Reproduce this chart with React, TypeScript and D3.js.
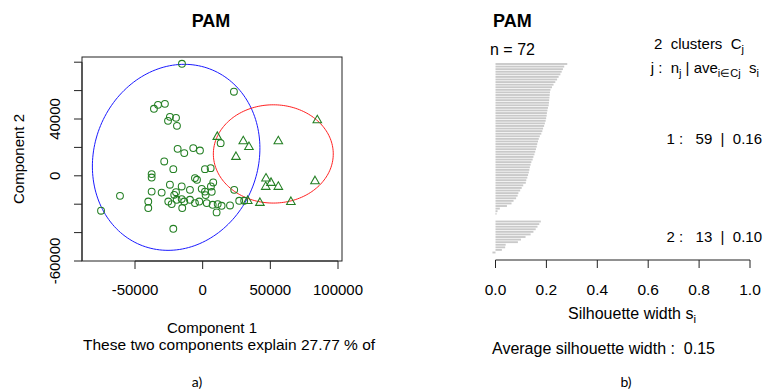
import React from "react";
import * as d3 from "d3";

// ---- Cluster plot (PAM, first two principal components) ----
// Cluster 1 observations: [Component 1, Component 2]
const cluster1Points: [number, number][] = [
  [-15300, 78900], [-36000, 47200], [-33000, 50000], [-27900, 50700],
  [-24200, 41500], [-25600, 38700], [-19700, 40800], [-19000, 35200],
  [23100, 59200], [-18500, 19000], [-13600, 16000], [-6950, 19500],
  [-2000, 17800], [-28400, 10100], [-21700, 4700], [1700, 4700],
  [5900, 5400], [-37700, 1200], [-37700, -1200], [-5700, -1600],
  [-4200, -2800], [7800, -4700], [-24200, -6300], [-15500, -7500],
  [6100, -7500], [-700, -9200], [1700, -11100], [-37700, -11100],
  [-30300, -11800], [-19700, -11500], [-21000, -13400], [-9400, -9900],
  [6700, -11300], [2200, -13600], [23300, -9900], [-40200, -18100],
  [-40200, -22700], [-25400, -18100], [-22900, -19900], [-19200, -16900],
  [-15500, -16400], [-13600, -18100], [-9400, -16900], [-5700, -19200],
  [-2500, -18100], [3000, -19200], [7400, -20400], [11100, -19900],
  [14000, -21100], [-15100, -22700], [20200, -20900], [10300, -25800],
  [27000, -17600], [30700, -17600], [-61100, -14100], [-75100, -24600],
  [-21700, -37300], [13300, 23000],
];

// Cluster 2 observations
const cluster2Points: [number, number][] = [
  [10800, 27700], [30000, 24600], [34200, 20600], [55900, 24600],
  [24600, 13600], [84700, 39400], [46800, -1600], [50500, -4700],
  [46600, -7500], [55900, -7500], [83000, -3500], [42300, -18800],
  [65200, -18100], [33300, -17400],
];

// Spanning ellipses: centre and the two axis vectors, in data units
const ellipse1 = { cx: -19600, cy: 13000, ax: [61600, 0], bx: [6000, 65500] };
const ellipse2 = { cx: 52200, cy: 15400, ax: [44300, 0], bx: [0, 34600] };

const xTicksLeft = [-50000, 0, 50000, 100000];
const yTicksLeft = [-60000, -40000, -20000, 0, 20000, 40000, 60000, 80000];
const yTickLabelsLeft = [-60000, 0, 40000];

// ---- Silhouette plot ----
const silhouetteCluster1 = [
  0.282, 0.27, 0.265, 0.26, 0.255, 0.248, 0.242, 0.235, 0.228, 0.222,
  0.216, 0.214, 0.213, 0.212, 0.211, 0.21, 0.209, 0.206, 0.204, 0.202,
  0.201, 0.199, 0.197, 0.194, 0.191, 0.187, 0.184, 0.18, 0.174, 0.17,
  0.167, 0.164, 0.162, 0.159, 0.156, 0.153, 0.149, 0.146, 0.141, 0.138,
  0.135, 0.133, 0.131, 0.128, 0.125, 0.121, 0.119, 0.109, 0.103, 0.097,
  0.09, 0.087, 0.081, 0.071, 0.063, 0.045, 0.017, 0.008, 0.004,
];
const silhouetteCluster2 = [
  0.178, 0.172, 0.165, 0.158, 0.149, 0.138, 0.118, 0.1, 0.088, 0.04,
  0.038, 0.025, -0.012,
];
const silTicks = [0, 0.2, 0.4, 0.6, 0.8, 1.0];

const FONT = "'Liberation Sans', Arial, Helvetica, sans-serif";
const NOTE_FONT = "Lato, 'Open Sans', sans-serif";
const GREEN = "#237f23";

export default function App() {
  // left panel scales
  const x = d3.scaleLinear().domain([-50000, 100000]).range([135, 338]);
  const y = d3.scaleLinear().domain([-60000, 40000]).range([261, 119]);

  const ellipsePath = (e: typeof ellipse1) => {
    const pts: [number, number][] = d3.range(0, 361, 2).map((deg) => {
      const t = (deg * Math.PI) / 180;
      const dx = e.ax[0] * Math.cos(t) + e.bx[0] * Math.sin(t);
      const dy = e.ax[1] * Math.cos(t) + e.bx[1] * Math.sin(t);
      return [x(e.cx + dx), y(e.cy + dy)];
    });
    return d3.line()(pts) + "Z";
  };

  // right panel scales
  const sx = d3.scaleLinear().domain([0, 1]).range([495.5, 750]);
  const clusters = [silhouetteCluster1, silhouetteCluster2];
  const total = silhouetteCluster1.length + silhouetteCluster2.length;
  const sy = d3.scaleLinear().domain([0, total + 2 * (clusters.length - 1) - 1]).range([64, 252.5]);
  const step = sy(1) - sy(0);

  const bars: { pos: number; v: number }[] = [];
  const clusterInfo: { j: number; n: number; avg: number; mid: number }[] = [];
  let pos = 0;
  clusters.forEach((c, k) => {
    const start = pos;
    c.forEach((v) => {
      bars.push({ pos, v });
      pos += 1;
    });
    clusterInfo.push({ j: k + 1, n: c.length, avg: d3.mean(c) as number, mid: (start + pos - 1) / 2 });
    pos += 2;
  });
  const avgSil = d3.mean(clusters.flat()) as number;

  const triangle = (cx: number, cy: number) =>
    `M${cx},${cy - 4.6}L${cx + 4.3},${cy + 2.9}L${cx - 4.3},${cy + 2.9}Z`;

  return (
    <svg width={773} height={392} style={{ display: "block", position: "absolute", left: 0, top: 0 }} fontFamily={FONT}>
      <rect width={773} height={392} fill="#fff" />

      {/* ---------- left: cluster plot ---------- */}
      <text x={211} y={27} textAnchor="middle" fontWeight="bold" fontSize={18}>PAM</text>
      <rect x={82} y={57} width={260} height={204} fill="none" stroke="#222" strokeWidth={1} />
      <path d={ellipsePath(ellipse1)} fill="none" stroke="#1a1aff" strokeWidth={1} />
      <path d={ellipsePath(ellipse2)} fill="none" stroke="#ff2020" strokeWidth={1} />
      {cluster1Points.map(([a, b], i) => (
        <circle key={"c" + i} cx={x(a)} cy={y(b)} r={3.4} fill="none" stroke={GREEN} strokeWidth={1.05} />
      ))}
      {cluster2Points.map(([a, b], i) => (
        <path key={"t" + i} d={triangle(x(a), y(b))} fill="none" stroke={GREEN} strokeWidth={1.05} />
      ))}
      {/* x axis */}
      <line x1={x(xTicksLeft[0])} x2={x(xTicksLeft[xTicksLeft.length - 1])} y1={261} y2={261} stroke="#222" />
      {xTicksLeft.map((t) => (
        <g key={"xt" + t}>
          <line x1={x(t)} x2={x(t)} y1={261} y2={269} stroke="#222" />
          <text x={x(t)} y={295} textAnchor="middle" fontSize={15}>{t}</text>
        </g>
      ))}
      {/* y axis */}
      <line x1={82} x2={82} y1={y(yTicksLeft[0])} y2={y(yTicksLeft[yTicksLeft.length - 1])} stroke="#222" />
      {yTicksLeft.map((t) => (
        <line key={"yt" + t} x1={74} x2={82} y1={y(t)} y2={y(t)} stroke="#222" />
      ))}
      {yTickLabelsLeft.map((t) => (
        <text key={"yl" + t} transform={`translate(60,${y(t)}) rotate(-90)`} textAnchor="middle" fontSize={15}>{t}</text>
      ))}
      <text transform="translate(24,159) rotate(-90)" textAnchor="middle" fontSize={15}>Component 2</text>
      <text x={212} y={333} textAnchor="middle" fontSize={15}>Component 1</text>
      <text x={83} y={350} fontSize={15.5}>These two components explain 27.77 % of</text>
      <text x={197} y={387} textAnchor="middle" fontSize={14} fontFamily={NOTE_FONT}>a)</text>

      {/* ---------- right: silhouette plot ---------- */}
      <text x={493} y={27} fontWeight="bold" fontSize={18}>PAM</text>
      <text x={490} y={55} fontSize={16}>n = {total}</text>
      <text x={744} y={49} textAnchor="end" fontSize={15} style={{ whiteSpace: "pre" }}>
        {`${clusters.length}  clusters  C`}<tspan fontSize={11} dy={4}>j</tspan>
      </text>
      <text x={759} y={73} textAnchor="end" fontSize={15} style={{ whiteSpace: "pre" }}>
        j :  n<tspan fontSize={11} dy={4}>j</tspan>
        <tspan dy={-4}> | ave</tspan>
        <tspan fontSize={11} dy={4}>i∈Cj</tspan>
        <tspan dy={-4}>  s</tspan>
        <tspan fontSize={11} dy={4}>i</tspan>
      </text>
      {bars.map((b, i) => (
        <rect
          key={"b" + i}
          x={Math.min(sx(0), sx(b.v))}
          y={sy(b.pos) - step * 0.36}
          width={Math.abs(sx(b.v) - sx(0))}
          height={step * 0.72}
          fill="#c9c9c9"
        />
      ))}
      {clusterInfo.map((c) => (
        <text key={"cl" + c.j} x={762} y={sy(c.mid) + 5} textAnchor="end" fontSize={15} style={{ whiteSpace: "pre" }}>
          {`${c.j} :   ${c.n}  |  ${c.avg.toFixed(2)}`}
        </text>
      ))}
      <line x1={sx(0)} x2={sx(1)} y1={260} y2={260} stroke="#222" />
      {silTicks.map((t) => (
        <g key={"st" + t}>
          <line x1={sx(t)} x2={sx(t)} y1={260} y2={268} stroke="#222" />
          <text x={sx(t)} y={295} textAnchor="middle" fontSize={15.5}>{t.toFixed(1)}</text>
        </g>
      ))}
      <text x={632} y={319} textAnchor="middle" fontSize={16}>
        Silhouette width s<tspan fontSize={11.5} dy={4}>i</tspan>
      </text>
      <text x={492} y={354} fontSize={16} style={{ whiteSpace: "pre" }}>
        {`Average silhouette width :  ${avgSil.toFixed(2)}`}
      </text>
      <text x={626} y={387} textAnchor="middle" fontSize={14} fontFamily={NOTE_FONT}>b)</text>
    </svg>
  );
}
